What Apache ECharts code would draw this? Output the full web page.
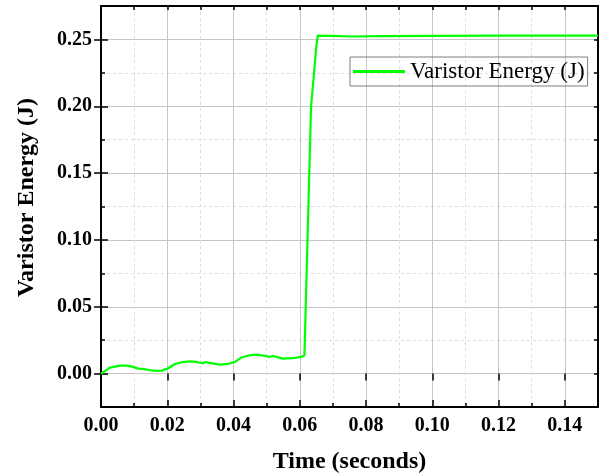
<!DOCTYPE html>
<html><head><meta charset="utf-8">
<script src="https://cdn.jsdelivr.net/npm/echarts@6/dist/echarts.min.js"></script>
<style>html,body{margin:0;padding:0;background:#fff}#c{width:600px;height:475px}</style>
</head><body><div id="c"></div>
<script>
const times = [0, 0.0027, 0.0057, 0.0077, 0.0097, 0.0112, 0.0117, 0.0127, 0.0145, 0.0163, 0.0183, 0.0203, 0.0222, 0.0243, 0.0268, 0.0288, 0.0308, 0.0316, 0.0328, 0.0358, 0.0383, 0.0404, 0.0424, 0.0449, 0.0469, 0.0489, 0.0509, 0.0517, 0.0529, 0.0549, 0.0579, 0.0604, 0.0614, 0.0634, 0.0644, 0.0649, 0.0654, 0.0700, 0.0750, 0.0850, 0.1000, 0.1200, 0.1500];
const energy = [0, 0.0045, 0.0060, 0.0060, 0.0050, 0.0037, 0.0045, 0.0035, 0.0027, 0.0020, 0.0022, 0.0040, 0.0070, 0.0085, 0.0092, 0.0087, 0.0077, 0.0087, 0.0080, 0.0067, 0.0072, 0.0087, 0.0120, 0.0137, 0.0142, 0.0135, 0.0125, 0.0132, 0.0125, 0.0112, 0.0115, 0.0125, 0.0135, 0.2000, 0.2277, 0.2425, 0.2528, 0.2526, 0.2522, 0.2525, 0.2527, 0.2528, 0.2528];
const xMajor = [0, 0.02, 0.04, 0.06, 0.08, 0.10, 0.12, 0.14];
const yMajor = [0, 0.05, 0.10, 0.15, 0.20, 0.25];
const seriesName = 'Varistor Energy (J)';

const font = 'Liberation Serif';
const common = {type:'value'};
function minorAxis(pos, min, max, interval, showLine){
  return Object.assign({}, common, {position:pos, min, max, interval,
    axisLine:{show:showLine, onZero:false, lineStyle:{color:'#000', width:2}},
    axisTick:{show:true, inside:true, length:4, lineStyle:{color:'#000', width:1.5}},
    axisLabel:{show:false},
    splitLine:{show:false}});
}
const chart = echarts.init(document.getElementById('c'), null, {renderer:'canvas'});
chart.setOption({
  animation:false,
  grid:{left:101, top:6, right:2, bottom:68, containLabel:false, outerBoundsMode:'none'},
  legend:{data:[seriesName], left:350, top:57, orient:'horizontal',
    borderColor:'#7f7f7f', borderWidth:1, padding:[3,3,3,3], borderRadius:0,
    icon:'rect', itemWidth:52, itemHeight:3, itemGap:6,
    textStyle:{fontFamily:font, fontSize:23, color:'#000', padding:[0,0,0,0]}},
  xAxis:[
    Object.assign({}, common, {position:'bottom', min:0, max:0.15, interval:0.01,
      axisLine:{show:true, onZero:false, lineStyle:{color:'#000', width:2}},
      axisTick:{show:true, inside:true, length:4, lineStyle:{color:'#000', width:1.5}},
      axisLabel:{show:false},
      splitLine:{show:true, lineStyle:{color:'#dedede', type:[3,3], width:1}}}),
    Object.assign({}, common, {position:'bottom', min:0, max:0.15,
      axisLine:{show:false, onZero:false},
      axisTick:{show:true, inside:true, length:7, customValues:xMajor, lineStyle:{color:'#000', width:1.5}},
      axisLabel:{show:true, customValues:xMajor, margin:9, formatter:v=>v.toFixed(2),
        fontFamily:font, fontWeight:'bold', fontSize:20, color:'#000'},
      splitLine:{show:true, lineStyle:{color:'#c6c6c6', width:1}},
      name:'Time (seconds)', nameLocation:'middle', nameGap:43,
      nameTextStyle:{fontFamily:font, fontWeight:'bold', fontSize:24, color:'#000'}}),
    minorAxis('top', 0, 0.15, 0.01, true),
    Object.assign({}, common, {position:'top', min:0, max:0.15,
      axisLine:{show:false},
      axisTick:{show:true, inside:true, length:7, customValues:xMajor, lineStyle:{color:'#000', width:1.5}},
      axisLabel:{show:false}, splitLine:{show:false}})
  ],
  yAxis:[
    Object.assign({}, common, {position:'left', min:-0.025, max:0.275, interval:0.025,
      axisLine:{show:true, onZero:false, lineStyle:{color:'#000', width:2}},
      axisTick:{show:true, inside:true, length:4, lineStyle:{color:'#000', width:1.5}},
      axisLabel:{show:false},
      splitLine:{show:true, lineStyle:{color:'#dedede', type:[3,3], width:1}}}),
    Object.assign({}, common, {position:'left', min:-0.025, max:0.275,
      axisLine:{show:false, onZero:false},
      axisTick:{show:true, inside:true, length:7, customValues:yMajor, lineStyle:{color:'#000', width:1.5}},
      axisLabel:{show:true, customValues:yMajor, margin:9, formatter:v=>v.toFixed(2),
        fontFamily:font, fontWeight:'bold', fontSize:20, color:'#000'},
      splitLine:{show:true, lineStyle:{color:'#c6c6c6', width:1}},
      name:seriesName, nameLocation:'middle', nameGap:62,
      nameTextStyle:{fontFamily:font, fontWeight:'bold', fontSize:24, color:'#000', padding:[0,0,0,18]}}),
    minorAxis('right', -0.025, 0.275, 0.025, true),
    Object.assign({}, common, {position:'right', min:-0.025, max:0.275,
      axisLine:{show:false},
      axisTick:{show:true, inside:true, length:7, customValues:yMajor, lineStyle:{color:'#000', width:1.5}},
      axisLabel:{show:false}, splitLine:{show:false}})
  ],
  series:[{
    name:seriesName, type:'line', xAxisIndex:0, yAxisIndex:0,
    data:times.map((t,i)=>[t, energy[i]]),
    showSymbol:false, symbol:'none', smooth:false,
    lineStyle:{color:'#00ff00', width:2.2}, itemStyle:{color:'#00ff00'},
    z:5
  }]
});
</script></body></html>
